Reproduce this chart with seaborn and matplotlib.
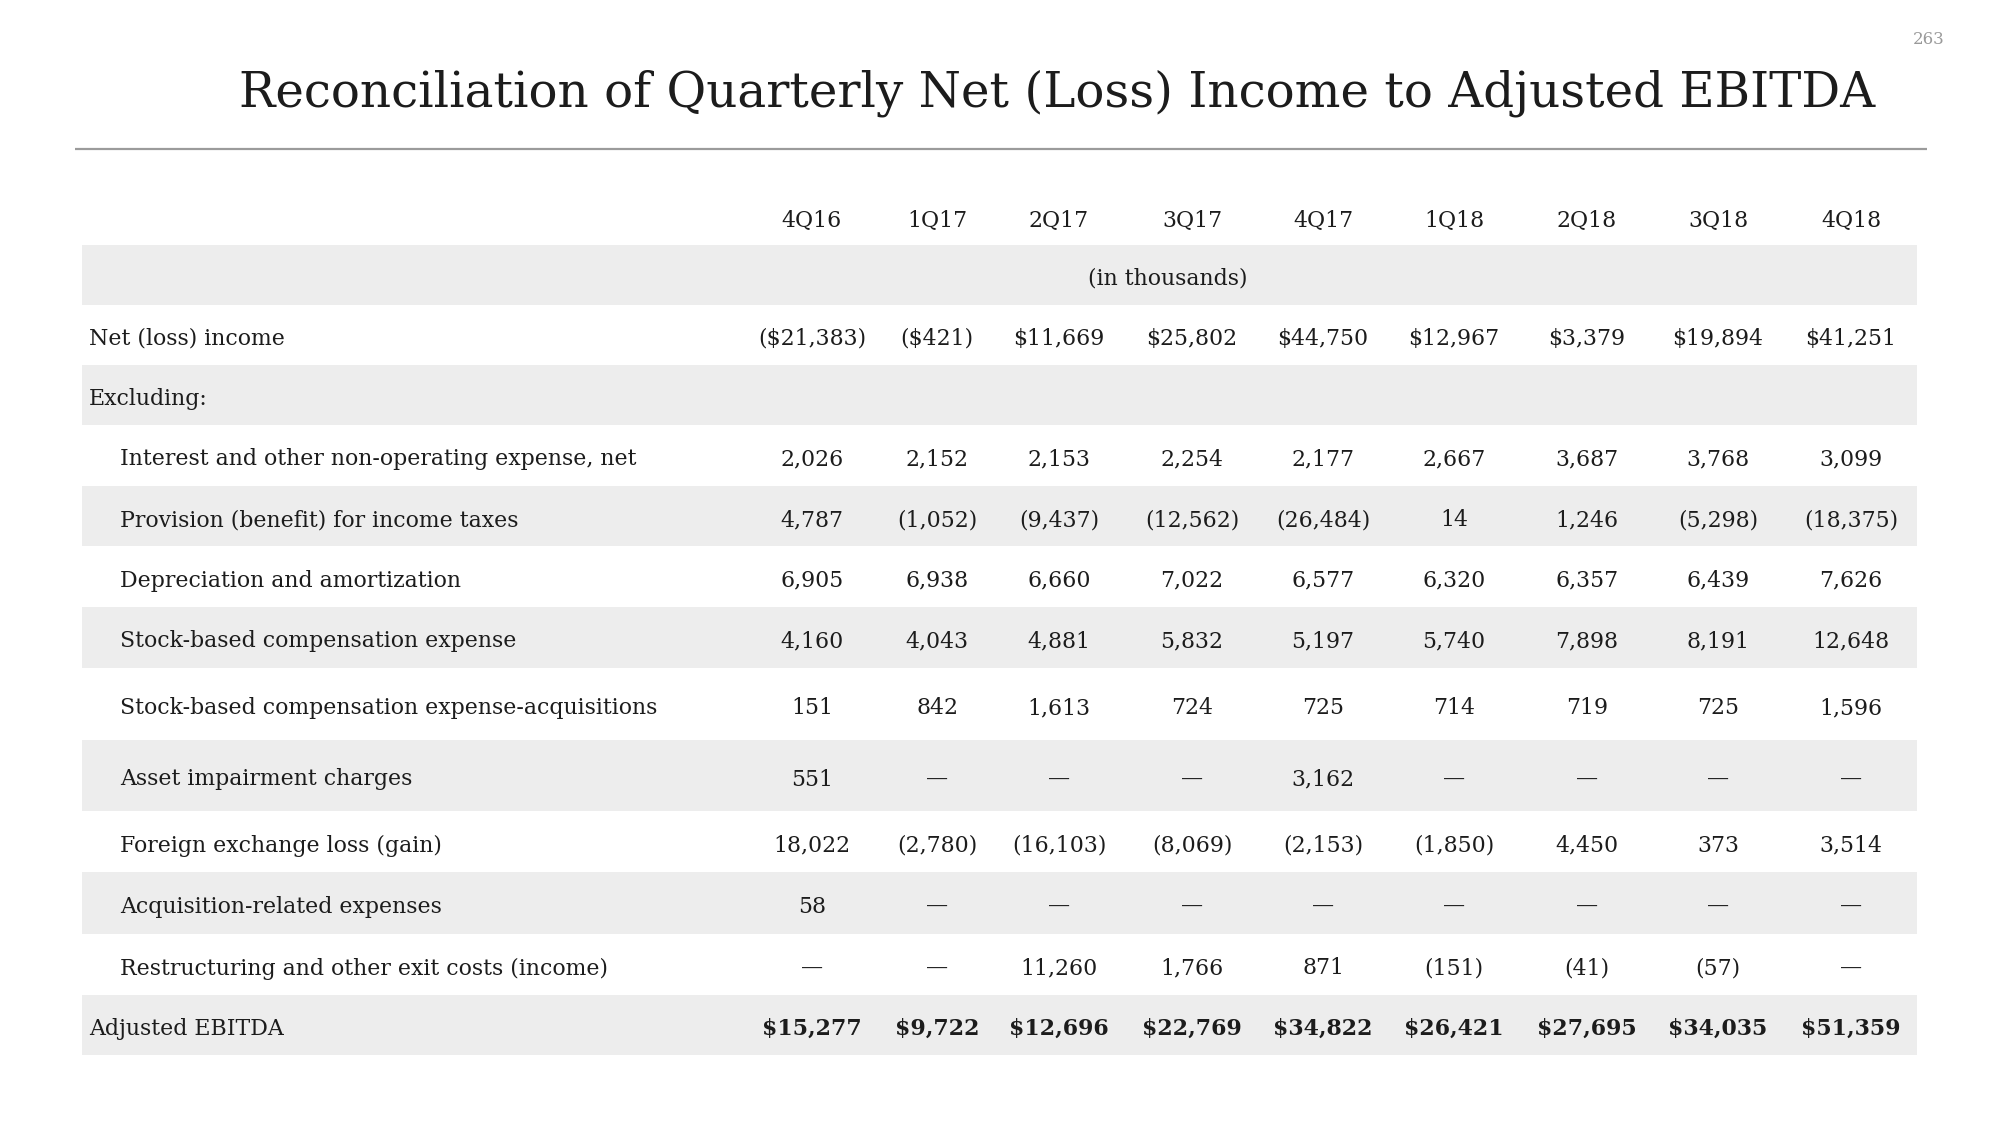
import matplotlib
matplotlib.use('Agg')
import numpy as np
import pandas as pd
import matplotlib.pyplot as plt
import seaborn as sns

# -----------------------------------------------------------------------------
# ----------------------------- table data ------------------------------------
QUARTERS = ['4Q16', '1Q17', '2Q17', '3Q17', '4Q17', '1Q18', '2Q18', '3Q18', '4Q18']

ROW_LABELS = ['Net (loss) income',
              'Excluding:',
              'Interest and other non-operating expense, net',
              'Provision (benefit) for income taxes',
              'Depreciation and amortization',
              'Stock-based compensation expense',
              'Stock-based compensation expense-acquisitions',
              'Asset impairment charges',
              'Foreign exchange loss (gain)',
              'Acquisition-related expenses',
              'Restructuring and other exit costs (income)',
              'Adjusted EBITDA']

net_income = [-21383, -421, 11669, 25802, 44750, 12967, 3379, 19894, 41251]
excluding = [None] * 9
interest = [2026, 2152, 2153, 2254, 2177, 2667, 3687, 3768, 3099]
income_taxes = [4787, -1052, -9437, -12562, -26484, 14, 1246, -5298, -18375]
depreciation = [6905, 6938, 6660, 7022, 6577, 6320, 6357, 6439, 7626]
stock_comp = [4160, 4043, 4881, 5832, 5197, 5740, 7898, 8191, 12648]
stock_comp_acq = [151, 842, 1613, 724, 725, 714, 719, 725, 1596]
impairment = [551, None, None, None, 3162, None, None, None, None]
fx_loss = [18022, -2780, -16103, -8069, -2153, -1850, 4450, 373, 3514]
acq_expenses = [58, None, None, None, None, None, None, None, None]
restructuring = [None, None, 11260, 1766, 871, -151, -41, -57, None]
adj_ebitda = [15277, 9722, 12696, 22769, 34822, 26421, 27695, 34035, 51359]

# -----------------------------------------------------------------------------
# ----------------------------- layout ----------------------------------------
TABLE_LEFT, TABLE_RIGHT = 82, 1917
BAND_TOP = 245
# (in thousands) row first, then one height per row label
ROW_HEIGHTS = [60, 60, 60, 61, 60, 61, 61, 72, 71, 61, 62, 61, 60]
COL_FIRST = 812
COL_GAPS = [125, 122, 133, 131, 131, 133, 131, 133]
BAND_COLOR = '#ededed'
TEXT_COLOR = '#1c1c1c'
FONT = ['DejaVu Serif']
BODY_SIZE = 15.8
TEXT_DY = 4

# -----------------------------------------------------------------------------


def fmt(v, dollar=False):
    ''' money style: parentheses for negatives, em dash for nil '''
    if v is None:
        return '\u2014'
    s = '{:,}'.format(abs(v))
    if dollar:
        s = '$' + s
    return '(%s)' % s if v < 0 else s


def build_table():
    ''' long table of every value cell '''
    series = [net_income, excluding, interest, income_taxes, depreciation,
              stock_comp, stock_comp_acq, impairment, fx_loss, acq_expenses,
              restructuring, adj_ebitda]
    recs = []
    for r, (lab, vals) in enumerate(zip(ROW_LABELS, series)):
        if lab == 'Excluding:':
            continue
        dollar = r in (0, len(ROW_LABELS) - 1)
        for c, v in enumerate(vals):
            recs.append({'row': r, 'col': c, 'text': fmt(v, dollar),
                         'bold': r == len(ROW_LABELS) - 1})
    return pd.DataFrame(recs)


# -----------------------------------------------------------------------------

sns.set_theme(style='white')
plt.rcParams['font.family'] = FONT

fig = plt.figure(figsize=(20, 11.25), dpi=100)
ax = fig.add_axes([0, 0, 1, 1])
ax.set_xlim(0, 2000)
ax.set_ylim(1125, 0)
ax.axis('off')

# title, page number and rule
ax.text(1057, 93, 'Reconciliation of Quarterly Net (Loss) Income to Adjusted EBITDA',
        ha='center', va='center', fontsize=34.8, color=TEXT_COLOR)
ax.text(1929, 40, '263', ha='center', va='center', fontsize=12, color='#9a9a9a')
ax.plot([75, 1927], [149, 149], color='#9b9b9b', lw=1.6, solid_capstyle='butt')

# row bands
edges = BAND_TOP + np.concatenate([[0], np.cumsum(ROW_HEIGHTS)])
centers = (edges[:-1] + edges[1:]) / 2 + TEXT_DY
for i in range(0, len(ROW_HEIGHTS), 2):
    ax.axhspan(edges[i], edges[i + 1],
               xmin=TABLE_LEFT / 2000, xmax=TABLE_RIGHT / 2000,
               color=BAND_COLOR, lw=0, zorder=0)

col_x = COL_FIRST + np.concatenate([[0], np.cumsum(COL_GAPS)])

# header
for x, q in zip(col_x, QUARTERS):
    ax.text(x, 221, q, ha='center', va='center', fontsize=BODY_SIZE,
            color=TEXT_COLOR)
ax.text(1168, centers[0], '(in thousands)', ha='center', va='center',
        fontsize=BODY_SIZE, color=TEXT_COLOR)

# row labels
for r, lab in enumerate(ROW_LABELS):
    indent = r not in (0, 1, len(ROW_LABELS) - 1)
    ax.text(120 if indent else 89, centers[r + 1], lab, ha='left', va='center',
            fontsize=BODY_SIZE, color=TEXT_COLOR)

# value cells
cells = build_table()
for _, c in cells.iterrows():
    ax.text(col_x[c['col']], centers[c['row'] + 1], c['text'],
            ha='center', va='center', fontsize=BODY_SIZE, color=TEXT_COLOR,
            fontweight='bold' if c['bold'] else 'normal')

fig.savefig('out.png', dpi=100, facecolor='white')
